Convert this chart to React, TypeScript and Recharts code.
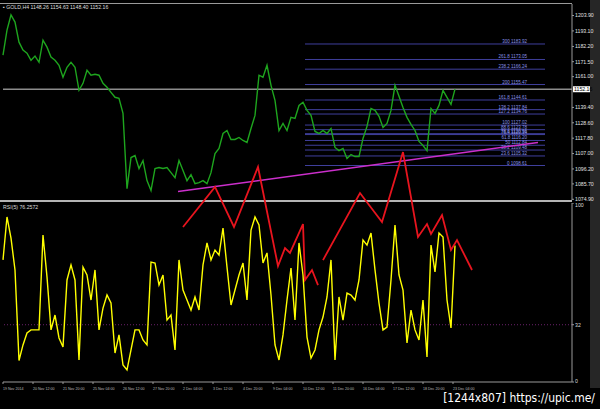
import { ComposedChart, LineChart, Line, XAxis, YAxis, ReferenceLine } from 'recharts';

// GOLD H4 closes, one value every few bars
const priceValues = [
  1176.1, 1193.7, 1204.3, 1199.3, 1185.2, 1179.6, 1177.5, 1172.5, 1175.4, 1171.1,
  1186.6, 1181.7, 1174.7, 1172.5, 1169.0, 1160.6, 1167.6, 1171.1, 1167.6, 1151.4,
  1156.3, 1165.5, 1162.0, 1162.7, 1162.0, 1156.3, 1153.5, 1150.0, 1146.5, 1145.8,
  1135.2, 1082.4, 1104.2, 1105.6, 1096.5, 1102.1, 1088.0, 1081.0, 1096.5, 1097.2,
  1096.5, 1097.2, 1093.6, 1090.1, 1102.1, 1095.1, 1088.0, 1092.2, 1085.9, 1086.6,
  1088.0, 1085.9, 1093.6, 1107.0, 1110.6, 1121.1, 1123.2, 1116.9, 1116.9, 1118.3,
  1116.2, 1114.8, 1124.6, 1133.8, 1162.0, 1160.6, 1169.0, 1154.9, 1144.4, 1123.2,
  1128.2, 1123.2, 1132.4, 1131.7, 1140.8, 1143.0, 1137.3, 1133.8, 1122.5, 1121.1,
  1123.2, 1121.1, 1124.6, 1111.3, 1109.1, 1110.6, 1103.5, 1106.3, 1104.9, 1104.9,
  1117.6, 1126.1, 1138.7, 1137.3, 1133.1, 1125.3, 1128.2, 1137.3, 1154.9, 1147.2,
  1139.4, 1132.4, 1127.5, 1123.2, 1115.5, 1112.7, 1109.1, 1138.7, 1135.2, 1140.8,
  1151.4, 1146.5, 1141.5, 1152.2,
];

const rsiValues = [
  68.2, 92.2, 80.4, 62.6, 12.0, 20.7, 27.4, 29.1, 29.1, 29.1,
  82.1, 58.7, 29.1, 37.4, 24.6, 19.6, 57.0, 65.4, 57.0, 12.3,
  64.2, 59.8, 45.8, 62.6, 29.1, 41.3, 48.6, 44.1, 16.2, 26.3,
  9.5, 6.7, 17.9, 29.1, 29.1, 23.5, 20.7, 67.0, 66.5, 54.2,
  59.8, 34.6, 37.4, 17.9, 68.2, 51.4, 45.8, 40.2, 47.5, 40.2,
  65.4, 77.7, 68.2, 73.7, 70.9, 86.0, 64.2, 43.0, 51.4, 59.8,
  66.5, 45.8, 84.9, 92.2, 87.7, 66.5, 72.1, 48.6, 20.7, 12.3,
  26.3, 45.8, 63.7, 34.6, 77.7, 59.8, 25.1, 13.4, 17.9, 29.1,
  36.3, 47.5, 68.2, 12.3, 47.5, 34.6, 49.7, 48.6, 45.8, 57.0,
  79.3, 76.5, 83.2, 62.6, 44.1, 29.1, 30.7, 57.0, 87.7, 59.8,
  51.4, 21.8, 40.2, 29.1, 23.5, 45.8, 14.0, 76.5, 61.5, 83.2,
  81.0, 45.8, 30.2, 76.3,
];

const priceTicks = [1203.9, 1193.1, 1182.2, 1171.5, 1161.0, 1139.4, 1128.6, 1117.8, 1107.0, 1096.2, 1085.7, 1074.9];
const bidPrice = 1152.16;
const rsiTicks = [100, 32, 0];

const fibLevels = ['300', '261.8', '238.2', '200', '161.8', '138.2', '127.2', '100', '88.6', '78.6', '76.4', '61.8', '50', '38.2', '23.6', '0'];
const fibPrices = [1183.92, 1173.05, 1166.24, 1155.47, 1144.61, 1137.84, 1134.76, 1127.02, 1123.78, 1120.96, 1120.34, 1116.2, 1112.84, 1109.48, 1105.32, 1098.61];
const fibFrom = 75.5;
const fibTo = 135.5;

const trendIdx = [43.75, 133.75];
const trendPrice = [1080.3, 1114.8];

// hand drawn red zigzags, in bar index / price units of the main window
const zigAIdx = [45, 53, 57.75, 63.75, 68.75, 70.5, 71.75, 75, 75.5, 77.25, 78.75];
const zigAPrice = [1054.9, 1083.1, 1054.9, 1097.2, 1027.4, 1040.1, 1036.6, 1057.0, 1017.6, 1024.6, 1014.0];
const zigBIdx = [80, 89.25, 94.75, 100, 103.75, 106, 107, 109.75, 112, 113.5, 117.25];
const zigBPrice = [1031.6, 1078.8, 1058.4, 1107.7, 1047.9, 1057.0, 1050.0, 1063.3, 1038.7, 1045.7, 1024.6];

const timeLabels = [
  '19 Nov 2014', '20 Nov 12:00', '21 Nov 20:00', '25 Nov 04:00', '26 Nov 12:00', '27 Nov 20:00',
  '2 Dec 04:00', '3 Dec 12:00', '4 Dec 20:00', '9 Dec 04:00', '10 Dec 12:00', '11 Dec 20:00',
  '16 Dec 04:00', '17 Dec 12:00', '18 Dec 20:00', '23 Dec 04:00',
];
const timeTicks = timeLabels.map((_, i) => i * 7.5);

const X_MAX = 142.25;
const FONT = 'Liberation Sans, Arial, sans-serif';

const data = priceValues.map((price, i) => ({ i, price, rsi: rsiValues[i] }));
const zigA = zigAIdx.map((i, k) => ({ i, p: zigAPrice[k] }));
const zigB = zigBIdx.map((i, k) => ({ i, p: zigBPrice[k] }));

function FibText(props: any) {
  const { viewBox, text } = props;
  if (!viewBox) return null;
  return (
    <text x={viewBox.x + viewBox.width - 18} y={viewBox.y - 1} fontSize={4.5} fill="#8a92e8" textAnchor="end" fontFamily={FONT}>
      {text}
    </text>
  );
}

function BidLabel(props: any) {
  const { viewBox } = props;
  if (!viewBox) return null;
  const x = viewBox.x + viewBox.width + 1;
  return (
    <g>
      <rect x={x} y={viewBox.y - 3} width={17} height={6} fill="#ffffff" />
      <text x={x + 1} y={viewBox.y + 2} fontSize={5.2} fill="#000" fontFamily={FONT}>
        {bidPrice.toFixed(2)}
      </text>
    </g>
  );
}

function RsiTick(props: any) {
  const { x, y, payload } = props;
  const dy = payload.value === 100 ? 4 : payload.value === 0 ? 1 : 2;
  return (
    <text x={x} y={y + dy} fontSize={5.2} fill="#ddd" fontFamily={FONT}>
      {payload.value}
    </text>
  );
}

function TimeTick(props: any) {
  const { x, y, index } = props;
  return (
    <text x={x} y={y + 4} fontSize={3.6} fill="#bbb" fontFamily={FONT}>
      {timeLabels[index]}
    </text>
  );
}

export default function App() {
  return (
    <div style={{ position: 'fixed', left: 0, top: 0, width: 600, height: 409, background: '#000', overflow: 'hidden', fontFamily: FONT }}>
      {/* right strip */}
      <div style={{ position: 'absolute', left: 590, top: 0, width: 10, height: 388, background: '#262626' }} />
      {/* frame lines */}
      <div style={{ position: 'absolute', left: 0, top: 3, width: 572, height: 1, background: '#9a9a9a' }} />
      <div style={{ position: 'absolute', left: 0, top: 200, width: 572, height: 2, background: '#b4b4b4' }} />

      <div style={{ position: 'absolute', left: 0, top: 0 }}>
        <ComposedChart width={600} height={201} data={data} margin={{ top: 4, right: 0, bottom: 1, left: 3 }}>
          <XAxis dataKey="i" type="number" domain={[0, X_MAX]} hide />
          <YAxis
            orientation="right"
            width={28}
            domain={[1074.4, 1212]}
            ticks={priceTicks}
            tickFormatter={(v: number) => v.toFixed(2)}
            tick={{ fill: '#e0e0e0', fontSize: 5.2, fontFamily: FONT, textAnchor: 'start' }}
            tickSize={2}
            tickMargin={1}
            axisLine={{ stroke: '#9a9a9a' }}
            tickLine={{ stroke: '#9a9a9a' }}
            interval={0}
          />
          {fibPrices.map((p, k) => (
            <ReferenceLine
              key={fibLevels[k]}
              segment={[{ x: fibFrom, y: p }, { x: fibTo, y: p }]}
              stroke="#3f3f9c"
              strokeWidth={1}
              label={(lp: any) => <FibText {...lp} text={`${fibLevels[k]} ${p.toFixed(2)}`} />}
            />
          ))}
          <ReferenceLine y={bidPrice} stroke="#8c8c8c" strokeWidth={1.5} label={(lp: any) => <BidLabel {...lp} />} />
          <Line dataKey="price" stroke="#1ea51e" strokeWidth={1.4} dot={false} isAnimationActive={false} />
          <ReferenceLine
            segment={[{ x: trendIdx[0], y: trendPrice[0] }, { x: trendIdx[1], y: trendPrice[1] }]}
            stroke="#cc2fcc"
            strokeWidth={1.5}
          />
        </ComposedChart>
      </div>

      <div style={{ position: 'absolute', left: 0, top: 203 }}>
        <ComposedChart width={600} height={189} data={data} margin={{ top: 0, right: 0, bottom: 0, left: 3 }}>
          <XAxis
            dataKey="i"
            type="number"
            domain={[0, X_MAX]}
            ticks={timeTicks}
            interval={0}
            height={10}
            tick={<TimeTick />}
            tickSize={2}
            axisLine={{ stroke: '#9a9a9a' }}
            tickLine={{ stroke: '#9a9a9a' }}
          />
          <YAxis
            orientation="right"
            width={28}
            domain={[0, 100]}
            ticks={rsiTicks}
            interval={0}
            tick={<RsiTick />}
            tickSize={2}
            tickMargin={1}
            axisLine={{ stroke: '#9a9a9a' }}
            tickLine={{ stroke: '#9a9a9a' }}
          />
          <ReferenceLine y={32} stroke="#6a206a" strokeDasharray="1 2" />
          <Line dataKey="rsi" stroke="#ffff00" strokeWidth={1.4} dot={false} isAnimationActive={false} />
        </ComposedChart>
      </div>

      {/* red zigzag overlay across both windows */}
      <div style={{ position: 'absolute', left: 0, top: 0, pointerEvents: 'none' }}>
        <LineChart width={600} height={383} margin={{ top: 4, right: 28, bottom: 0, left: 3 }}>
          <XAxis dataKey="i" type="number" domain={[0, X_MAX]} hide />
          <YAxis dataKey="p" domain={[945, 1212]} hide />
          <Line data={zigA} dataKey="p" stroke="#e8141e" strokeWidth={1.8} dot={false} isAnimationActive={false} />
          <Line data={zigB} dataKey="p" stroke="#e8141e" strokeWidth={1.8} dot={false} isAnimationActive={false} />
        </LineChart>
      </div>

      <div style={{ position: 'absolute', left: 3, top: 4, fontSize: 5.2, color: '#ddd', whiteSpace: 'nowrap' }}>
        ▪ GOLD,H4 1148.26 1154.63 1148.40 1152.16
      </div>
      <div style={{ position: 'absolute', left: 3, top: 204, fontSize: 5.2, color: '#ddd', whiteSpace: 'nowrap' }}>
        RSI(5) 76.2572
      </div>
      <div
        style={{
          position: 'absolute',
          right: 5,
          top: 391,
          fontSize: 12,
          color: '#fff',
          whiteSpace: 'nowrap',
          fontFamily: "'Liberation Sans Narrow', 'DejaVu Sans Condensed', sans-serif",
        }}
      >
        [1244x807] https://upic.me/
      </div>
    </div>
  );
}
